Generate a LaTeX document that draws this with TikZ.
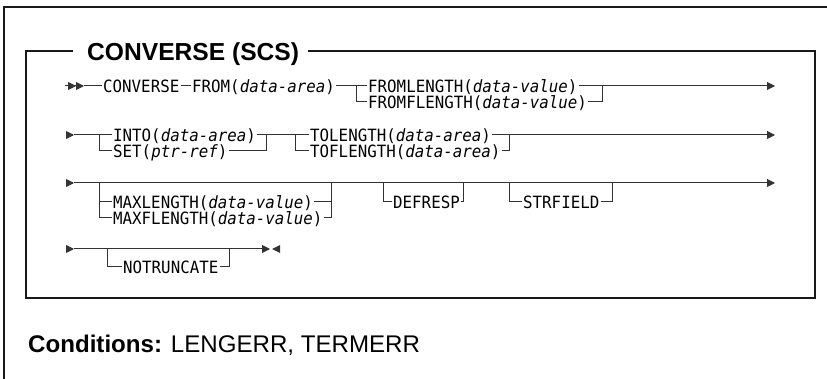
\documentclass[tikz,border=0pt]{standalone}
\usepackage{fontspec}
\setmainfont{Liberation Sans}
\newfontfamily\monof{DejaVu Sans Mono}
\usetikzlibrary{arrows.meta}
\newcommand\vv[1]{\textit{#1}}
\newcommand\kwt[1]{\scalebox{1}[1.07]{#1}}
\tikzset{
  kw/.style={font=\monof\fontsize{15.8}{16}\selectfont, inner xsep=1pt, inner ysep=0pt,
             text height=12.3pt, text depth=0pt, anchor=west},
  rail/.style={line width=1pt, draw=black!80},
  endtip/.style={-{Triangle[length=8pt,width=8pt]}},
  dbltip/.style={-{Triangle[length=8pt,width=8pt]Triangle[length=8pt,width=8pt]}},
  frame/.style={line width=1.3pt, draw=black!90},
}
\begin{document}
\begin{tikzpicture}[x=1pt,y=-1pt]
\useasboundingbox (0,0) rectangle (827,379);
% frames
\draw[frame] (827,7) -- (4,7) -- (4,379);
\draw[frame] (73,51) -- (26,51) -- (26,298) -- (815,298) -- (815,51) -- (308,51);
\node[anchor=base west, inner sep=0pt, font=\fontsize{24.6}{26}\selectfont\bfseries] (title) at (87,61) {CONVERSE (SCS)};
\node[anchor=base west, inner sep=0pt, font=\fontsize{24.1}{26}\selectfont] (cond) at (28,352) {\textbf{Conditions:} LENGERR, TERMERR};

% row 1
\coordinate (s1) at (65,86); \coordinate (s1b) at (84,86);
\node[kw] (conv) at (102,86) {\kwt{CONVERSE}};
\node[kw] (from) at (191,86) {\kwt{FROM(\vv{data-area})}};
\node[kw] (fl) at (367,86) {\kwt{FROMLENGTH(\vv{data-value})}};
\node[kw] (ffl) at (367,102) {\kwt{FROMFLENGTH(\vv{data-value})}};
\coordinate (j1a) at (356,86); \coordinate (j1b) at (602,86); \coordinate (e1) at (775,86);
\draw[rail,dbltip] (s1) -- (s1b);
\draw[rail] (s1b) -- (conv.west);
\draw[rail] (conv.east) -- (from.west);
\draw[rail] (from.east) -- (fl.west);
\draw[rail] (j1a) |- (ffl.west);
\draw[rail] (ffl.east) -| (j1b);
\draw[rail,endtip] (fl.east) -- (e1);

% row 2
\coordinate (s2) at (66,135); \coordinate (s2b) at (74,135);
\node[kw] (into) at (112,135) {\kwt{INTO(\vv{data-area})}};
\node[kw] (set) at (112,151) {\kwt{SET(\vv{ptr-ref})}};
\node[kw] (tol) at (309,135) {\kwt{TOLENGTH(\vv{data-area})}};
\node[kw] (tofl) at (309,151) {\kwt{TOFLENGTH(\vv{data-area})}};
\coordinate (j2a) at (99,135); \coordinate (j2b) at (266,135);
\coordinate (j2c) at (295,135); \coordinate (j2d) at (509,135);
\coordinate (e2) at (775,135);
\draw[rail,endtip] (s2) -- (s2b);
\draw[rail] (s2b) -- (into.west);
\draw[rail] (j2a) |- (set.west);
\draw[rail] (set.east) -| (j2b);
\draw[rail] (into.east) -- (tol.west);
\draw[rail] (j2c) |- (tofl.west);
\draw[rail] (tofl.east) -| (j2d);
\draw[rail,endtip] (tol.east) -- (e2);

% row 3
\coordinate (s3) at (66,183); \coordinate (s3b) at (74,183); \coordinate (e3) at (775,183);
\node[kw] (maxl) at (112,202) {\kwt{MAXLENGTH(\vv{data-value})}};
\node[kw] (maxfl) at (112,218) {\kwt{MAXFLENGTH(\vv{data-value})}};
\node[kw] (def) at (392,202) {\kwt{DEFRESP}};
\node[kw] (str) at (522,202) {\kwt{STRFIELD}};
\coordinate (j3a) at (99,183); \coordinate (j3c) at (99,202);
\coordinate (j3b) at (331,183); \coordinate (j3d) at (331,202);
\coordinate (j3e) at (383,183); \coordinate (j3f) at (463,183);
\coordinate (j3g) at (509,183); \coordinate (j3h) at (612,183);
\draw[rail,endtip] (s3) -- (s3b);
\draw[rail,endtip] (s3b) -- (e3);
\draw[rail] (j3a) |- (maxfl.west);
\draw[rail] (j3c) -- (maxl.west);
\draw[rail] (maxl.east) -- (j3d);
\draw[rail] (maxfl.east) -| (j3b);
\draw[rail] (j3e) |- (def.west);
\draw[rail] (def.east) -| (j3f);
\draw[rail] (j3g) |- (str.west);
\draw[rail] (str.east) -| (j3h);

% row 4
\coordinate (s4) at (66,249); \coordinate (s4b) at (74,249);
\coordinate (e4) at (270,249); \coordinate (e4r) at (272,249);
\node[kw] (notr) at (122,267) {\kwt{NOTRUNCATE}};
\coordinate (j4a) at (107,249); \coordinate (j4b) at (229,249);
\draw[rail,endtip] (s4) -- (s4b);
\draw[rail,endtip] (s4b) -- (e4);
\fill[black!80] (e4r) -- ++(8,-4) -- ++(0,8) -- cycle;
\draw[rail] (j4a) |- (notr.west);
\draw[rail] (notr.east) -| (j4b);
\end{tikzpicture}
\end{document}
